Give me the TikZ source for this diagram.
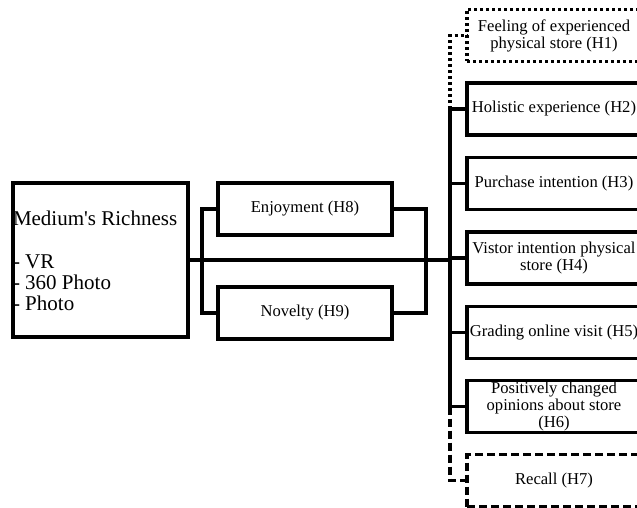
\documentclass[tikz,border=0pt]{standalone}
\usepackage{fontspec}
\setmainfont{Liberation Serif}
\begin{document}
\begin{tikzpicture}[x=1pt,y=-1pt,
  every node/.style={inner sep=0pt, outer sep=0pt},
  ln/.style={line width=3.2pt},
  box/.style={draw, line width=3.2pt, align=center, font=\fontsize{16.6}{17}\selectfont},
  rbox/.style={box, minimum width=174pt, minimum height=52pt},
  mbox/.style={box, minimum width=174pt, minimum height=52pt},
  dotbox/.style={dash pattern=on 3pt off 3pt},
  dashbox/.style={dash pattern=on 8pt off 4pt}]
\useasboundingbox (0,0) rectangle (637,508);
% left box
\node[box, minimum width=175pt, minimum height=154pt] (L) at (100.5,260) {};
\node[anchor=north west, align=left, font=\fontsize{21}{21}\selectfont] (Ltxt) at (13,211)
  {Medium\textquotesingle s Richness\\[22pt]- VR\\- 360 Photo\\- Photo};
% middle boxes
\node[mbox] (E) at (305,209) {Enjoyment (H8)};
\node[mbox] (N) at (305,313) {Novelty (H9)};
% right boxes
\node[rbox, dotbox] (H1) at (554,35.5) {Feeling of experienced\\physical store (H1)};
\node[rbox] (H2) at (554,109) {Holistic experience (H2)};
\node[rbox] (H3) at (554,183.5) {Purchase intention (H3)};
\node[rbox] (H4) at (554,258) {Vistor intention physical\\store (H4)};
\node[rbox] (H5) at (554,332.5) {Grading online visit (H5)};
\node[rbox] (H6) at (554,406.5) {Positively changed\\opinions about store\\(H6)};
\node[rbox, dashbox] (H7) at (554,480.5) {Recall (H7)};
% connectors
\coordinate (bus) at (450,260);
\draw[ln] (L.east) -- (bus);
\draw[ln] (E.west) -- ++(-16,0) |- (N.west);
\draw[ln] (E.east) -- ++(34,0) |- (N.east);
\draw[ln] (H2.west) -- (H2.west -| bus) -- (H6.west -| bus) -- (H6.west);
\draw[ln] (H3.west) -- (H3.west -| bus);
\draw[ln] (H4.west) -- (H4.west -| bus);
\draw[ln] (H5.west) -- (H5.west -| bus);
\draw[ln, dotbox] (H2.west -| bus) -- (H1.west -| bus) -- (H1.west);
\draw[ln, dashbox] (H6.west -| bus) -- (H7.west -| bus) -- (H7.west);
\end{tikzpicture}
\end{document}
